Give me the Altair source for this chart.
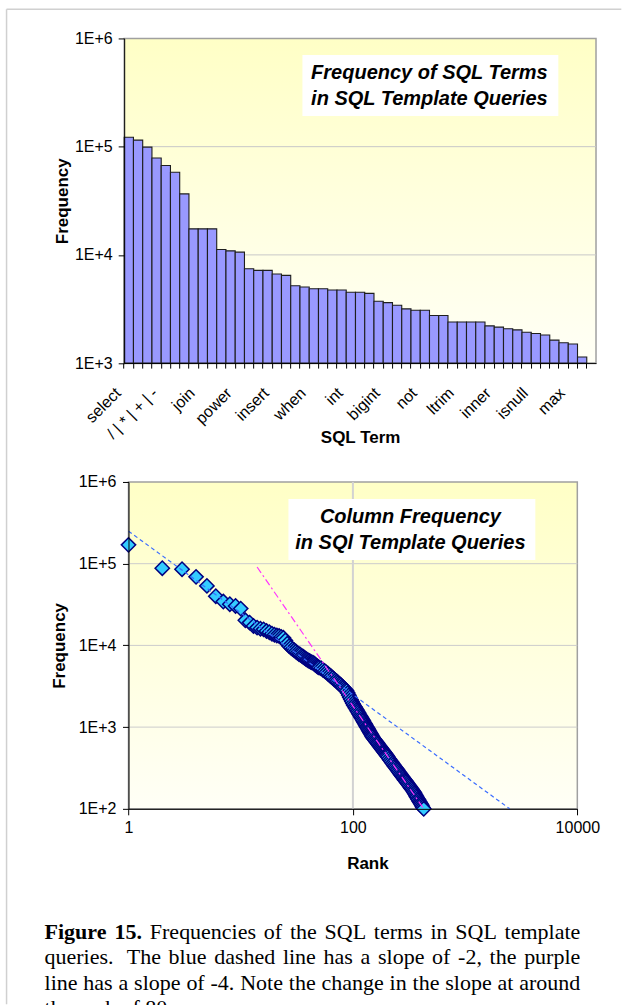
import json
import re

import altair as alt
import pandas as pd

# ---------------------------------------------------------------------------
# Data
# ---------------------------------------------------------------------------
# Top panel: frequency of each SQL term, in rank order (51 category slots,
# the last one holds no bar).
term_freq = [122000, 115000, 99000, 78500, 67000, 58000, 36600,
             17400, 17400, 17400, 11200, 10900, 10600, 7450, 7200, 7200,
             6650, 6470, 5190, 5050, 4870, 4870, 4740, 4740, 4510, 4510,
             4410, 3730, 3620, 3430, 3170, 3080, 3080, 2750, 2750, 2400,
             2400, 2400, 2400, 2210, 2150, 2080, 2030, 1930, 1880, 1820,
             1630, 1540, 1500, 1140]
term_slots = 51
# every fourth term carries a label on the category axis
term_labels = ["select", "/ | * | + | -", "join", "power", "insert", "when",
               "int", "bigint", "not", "ltrim", "inner", "isnull", "max"]

# Bottom panel: column frequency against rank
col_rank = [1, 2, 3, 4, 5, 6, 7, 8, 9, 10,
            11, 12, 13, 14, 15, 16, 17, 18, 19, 20,
            21, 22, 23, 24, 25, 26, 27, 28, 29, 30,
            31, 32, 33, 34, 35, 36, 37, 38, 39, 40,
            41, 42, 43, 44, 45, 46, 47, 48, 49, 50,
            52, 54, 56, 58, 60, 62, 64, 66, 68, 70,
            72, 74, 76, 78, 80, 82, 84, 86, 88, 90,
            92, 94, 96, 98, 100, 102, 104, 106, 108, 110,
            112, 114, 116, 118, 120, 122, 124, 126, 128, 130,
            132, 134, 136, 138, 140, 142, 144, 146, 148, 150,
            153, 156, 159, 162, 165, 168, 171, 174, 177, 180,
            183, 186, 189, 192, 195, 198, 201, 205, 210, 215,
            220, 225, 230, 235, 240, 245, 250, 255, 260, 265,
            270, 275, 280, 285, 290, 295, 300, 306, 312, 318,
            324, 330, 336, 342, 348, 354, 360, 366, 372, 378,
            384, 390, 396, 402, 408, 414, 420, 428]
col_freq = [170000, 88000, 85500, 69000, 53500, 40000, 34400, 31900, 30400, 28200,
            20300, 19000, 17300, 16500, 16000, 15700, 15000, 14500, 13900, 13500,
            13200, 13000, 12700, 12400, 11500, 10500, 9800, 9400, 9000, 8700,
            8400, 8100, 7850, 7700, 7450, 7250, 7050, 6850, 6700, 6550,
            6450, 6300, 6200, 6150, 6000, 5850, 5700, 5550, 5450, 5350,
            5250, 5040, 4850, 4680, 4490, 4320, 4160, 4010, 3860, 3730,
            3610, 3490, 3380, 3270, 3150, 3050, 2950, 2860, 2770, 2610,
            2450, 2310, 2180, 2060, 1950, 1850, 1770, 1700, 1630, 1560,
            1500, 1440, 1380, 1330, 1280, 1230, 1190, 1140, 1100, 1060,
            1020, 987, 953, 920, 891, 861, 833, 806, 781, 757,
            728, 703, 680, 658, 637, 617, 597, 579, 562, 545,
            529, 514, 499, 485, 471, 458, 446, 430, 411, 394,
            377, 361, 347, 333, 321, 309, 298, 287, 277, 267,
            258, 249, 242, 234, 226, 220, 213, 206, 199, 192,
            185, 179, 174, 168, 162, 156, 150, 144, 139, 133,
            129, 124, 120, 116, 112, 108, 104, 100]

# reference power-law lines (end points)
blue_rank = [1, 2500]
blue_freq = [250000, 100]
pink_rank = [14, 428]
pink_freq = [91000, 100]

top_title = ["Frequency of SQL Terms", "in SQL Template Queries"]
bottom_title = ["Column Frequency", "in SQl Template Queries"]

caption_lines = [
    "Figure 15. Frequencies of the SQL terms in SQL template",
    "queries.  The blue dashed line has a slope of -2, the purple",
    "line has a slope of -4. Note the change in the slope at around",
    "the rank of 80.",
]
caption_bold_words = 2  # "Figure 15."

# ---------------------------------------------------------------------------
# Layout (all three views share the left edge of the top plot)
# ---------------------------------------------------------------------------
SANS = "Liberation Sans"
SERIF = "Liberation Serif"

X0 = 123.7                      # left edge shared by the stacked views
TOP_Y0, TOP_W, TOP_H = 37.5, 472.0, 324.8
BOT_DX = 128.0 - X0             # bottom plot starts a little further right
BOT_Y0, BOT_PW, BOT_H = 481.0, 449.0, 327.0
BOT_W = BOT_DX + BOT_PW
ROW_GAP = BOT_Y0 - (TOP_Y0 + TOP_H)
CAP_Y0 = BOT_Y0 + BOT_H + ROW_GAP
CAP_LEFT = 44.0 - X0
CAP_W, CAP_H = 460.0, 40.0
CAP_TEXT_W = 536.0
CAP_FONT = 22
CAP_BASELINES = [938.0, 963.5, 989.0, 1014.5]

one_row = pd.DataFrame({"k": [0]})


def gradient(top, bottom):
    return alt.LinearGradient(
        gradient="linear",
        stops=[alt.GradientStop(color=top, offset=0),
               alt.GradientStop(color=bottom, offset=1)],
        x1=0, x2=0, y1=0, y2=1,
    )


def panel_background(x0, x1, h):
    return alt.Chart(one_row).mark_rect(
        fill=gradient("#ffffc6", "#fffff6"), stroke="#a0a0a0", strokeWidth=1.5
    ).encode(x=alt.value(x0), x2=alt.value(x1), y=alt.value(0), y2=alt.value(h))


def title_box(x0, x1, y0, y1, cx, lines, baselines):
    box = alt.Chart(one_row).mark_rect(fill="white").encode(
        x=alt.value(x0), x2=alt.value(x1), y=alt.value(y0), y2=alt.value(y1))
    texts = [
        alt.Chart(one_row).mark_text(
            text=t, font=SANS, fontSize=20, fontWeight="bold", fontStyle="italic",
            align="center", baseline="alphabetic", color="black",
        ).encode(x=alt.value(cx), y=alt.value(b))
        for t, b in zip(lines, baselines)
    ]
    return [box] + texts


pow_label = "'1E+' + round(log(datum.value) / LN10)"

# ---------------------------------------------------------------------------
# Top panel: bar chart of SQL term frequencies
# ---------------------------------------------------------------------------
top_df = pd.DataFrame({"slot": list(range(1, len(term_freq) + 1)), "freq": term_freq})
top_x = alt.Scale(domain=list(range(1, term_slots + 1)), paddingInner=0, paddingOuter=0)
top_y = alt.Scale(type="log", domain=[1e3, 1e6], nice=False)

label_expr = ("(datum.value - 1) % 4 == 0 ? " + json.dumps(term_labels)
              + "[(datum.value - 1) / 4] : ''")

top_x_axis = alt.Axis(
    title="SQL Term", labelExpr=label_expr, labelAngle=315, labelAlign="right",
    labelBaseline="middle", labelPadding=22, labelOffset=-10.5, bandPosition=0,
    tickSize=5, labelOverlap=False, titleX=TOP_W / 2, titleY=74.7,
    titleBaseline="middle", zindex=1)
top_y_axis = alt.Axis(
    title="Frequency", values=[1e3, 1e4, 1e5, 1e6], labelExpr=pow_label,
    tickSize=6, labelPadding=6, titleX=-62.2, titleY=TOP_H / 2,
    titleBaseline="middle", zindex=1)

top_grid = alt.Chart(pd.DataFrame({"level": [1e4, 1e5]})).mark_rule(
    color="#c8c8c8", strokeWidth=1
).encode(y=alt.Y("level:Q", scale=top_y, axis=top_y_axis))

top_bars = alt.Chart(top_df).mark_bar(
    fill="#9999ff", stroke="#1e1e1e", strokeWidth=1.1
).encode(
    x=alt.X("slot:O", scale=top_x, axis=top_x_axis),
    y=alt.Y("freq:Q", scale=top_y, axis=top_y_axis),
    y2=alt.datum(1000),
)

top_chart = alt.layer(
    panel_background(0, TOP_W, TOP_H), top_grid, top_bars,
    *title_box(178.3, 434.3, 16.5, 77.5, 305.3, top_title, [40.2, 66.8]),
).properties(width=TOP_W, height=TOP_H)

# ---------------------------------------------------------------------------
# Bottom panel: rank / frequency scatter on log-log axes
# ---------------------------------------------------------------------------
bot_x = alt.Scale(type="log", domain=[1, 10000], nice=False, range=[BOT_DX, BOT_W])
bot_y = alt.Scale(type="log", domain=[100, 1e6], nice=False)

bot_x_axis = alt.Axis(
    title="Rank", values=[1, 100, 10000], format="d", labelFlush=False,
    tickSize=6, labelPadding=5, titleX=367 - X0, titleY=55,
    titleBaseline="middle", zindex=1)
bot_y_axis = alt.Axis(
    title="Frequency", values=[1e2, 1e3, 1e4, 1e5, 1e6], labelExpr=pow_label,
    tickSize=6, labelPadding=6.5, offset=-BOT_DX, titleX=-69, titleY=BOT_H / 2,
    titleBaseline="middle", zindex=1)

bot_hgrid = alt.Chart(pd.DataFrame({"level": [1e3, 1e4, 1e5]})).mark_rule(
    color="#cccccc", strokeWidth=1
).encode(y=alt.Y("level:Q", scale=bot_y, axis=bot_y_axis),
         x=alt.value(BOT_DX), x2=alt.value(BOT_W))
bot_vgrid = alt.Chart(pd.DataFrame({"level": [100]})).mark_rule(
    color="#d2d2d2", strokeWidth=2
).encode(x=alt.X("level:Q", scale=bot_x, axis=bot_x_axis))

points = alt.Chart(pd.DataFrame({"rank": col_rank, "freq": col_freq})).mark_point(
    shape="diamond", filled=True, fill="#33ccff", stroke="#000080",
    strokeWidth=1.5, size=205, opacity=1
).encode(
    x=alt.X("rank:Q", scale=bot_x, axis=bot_x_axis),
    y=alt.Y("freq:Q", scale=bot_y, axis=bot_y_axis),
)

blue_line = alt.Chart(pd.DataFrame({"rank": blue_rank, "freq": blue_freq})).mark_line(
    color="#3a6cff", strokeWidth=1.2, strokeDash=[4, 3]
).encode(x=alt.X("rank:Q", scale=bot_x, axis=bot_x_axis),
         y=alt.Y("freq:Q", scale=bot_y, axis=bot_y_axis))

pink_line = alt.Chart(pd.DataFrame({"rank": pink_rank, "freq": pink_freq})).mark_line(
    color="#ff33ff", strokeWidth=1.2, strokeDash=[7, 3, 2, 3]
).encode(x=alt.X("rank:Q", scale=bot_x, axis=bot_x_axis),
         y=alt.Y("freq:Q", scale=bot_y, axis=bot_y_axis))

bottom_chart = alt.layer(
    panel_background(BOT_DX, BOT_W, BOT_H), bot_hgrid, bot_vgrid, points,
    blue_line, pink_line,
    *title_box(288 - X0, 535 - X0, 17, 78, 410 - X0, bottom_title, [40.7, 67.3]),
).properties(width=BOT_W, height=BOT_H)

# ---------------------------------------------------------------------------
# Caption (justified Times text) and page frame
# ---------------------------------------------------------------------------
TIMES = {" ": 250, ".": 250, ",": 250, "-": 333,
         "0": 500, "1": 500, "2": 500, "4": 500, "5": 500, "8": 500,
         "F": 556, "L": 611, "N": 722, "Q": 722, "S": 556, "T": 611,
         "a": 444, "b": 500, "c": 444, "d": 500, "e": 444, "f": 333, "g": 500,
         "h": 500, "i": 278, "k": 500, "l": 278, "m": 778, "n": 500, "o": 500,
         "p": 500, "q": 500, "r": 333, "s": 389, "t": 278, "u": 500, "y": 500}
TIMES_BOLD = dict(TIMES, F=611, u=556, r=444)


def word_width(word, bold):
    table = TIMES_BOLD if bold else TIMES
    return sum(table.get(ch, 500) for ch in word) * CAP_FONT / 1000.0


space_w = TIMES[" "] * CAP_FONT / 1000.0
words = []
for li, line in enumerate(caption_lines):
    parts = re.split(r"( +)", line)
    toks, gaps = parts[0::2], [len(g) for g in parts[1::2]]
    bolds = [li == 0 and wi < caption_bold_words for wi in range(len(toks))]
    widths = [word_width(t, b) for t, b in zip(toks, bolds)]
    natural = sum(widths) + sum(gaps) * space_w
    last = li == len(caption_lines) - 1
    extra = 0.0 if (last or not gaps) else (CAP_TEXT_W - natural) / len(gaps)
    x = CAP_LEFT
    for wi, tok in enumerate(toks):
        words.append({"word": tok, "x": x, "y": CAP_BASELINES[li] - CAP_Y0,
                      "bold": bolds[wi]})
        if wi < len(gaps):
            x += widths[wi] + gaps[wi] * space_w + extra
words_df = pd.DataFrame(words)


def caption_text(df, weight):
    return alt.Chart(df).mark_text(
        font=SERIF, fontSize=CAP_FONT, fontWeight=weight, align="left",
        baseline="alphabetic", color="black",
    ).encode(x=alt.X("x:Q", scale=None, axis=None),
             y=alt.Y("y:Q", scale=None, axis=None), text="word:N")


frame_left = 6.0 - X0
frame_top = 8.0 - CAP_Y0
frame_h = alt.Chart(one_row).mark_rule(color="#d0d0d0", strokeWidth=1.5).encode(
    x=alt.value(frame_left), x2=alt.value(621.0 - X0), y=alt.value(frame_top))
frame_v = alt.Chart(one_row).mark_rule(color="#d0d0d0", strokeWidth=1.5).encode(
    x=alt.value(frame_left), y=alt.value(frame_top), y2=alt.value(1003.5 - CAP_Y0))

caption_chart = alt.layer(
    frame_h, frame_v,
    caption_text(words_df[~words_df["bold"]], "normal"),
    caption_text(words_df[words_df["bold"]], "bold"),
).properties(width=CAP_W, height=CAP_H)

# ---------------------------------------------------------------------------
# Assemble
# ---------------------------------------------------------------------------
chart = alt.vconcat(
    top_chart, bottom_chart, caption_chart, spacing=ROW_GAP, bounds="flush"
).properties(
    padding={"left": 5.25, "top": 7.25, "right": 0, "bottom": 0}
).configure(
    background="white"
).configure_view(
    stroke="transparent"
).configure_axis(
    labelFont=SANS, labelFontSize=16, labelColor="black",
    titleFont=SANS, titleFontSize=17, titleFontWeight="bold", titleColor="black",
    domainColor="black", domainWidth=1, tickColor="black", tickWidth=1, grid=False,
)

chart.save("out.html", embed_options={"renderer": "svg", "actions": False})
